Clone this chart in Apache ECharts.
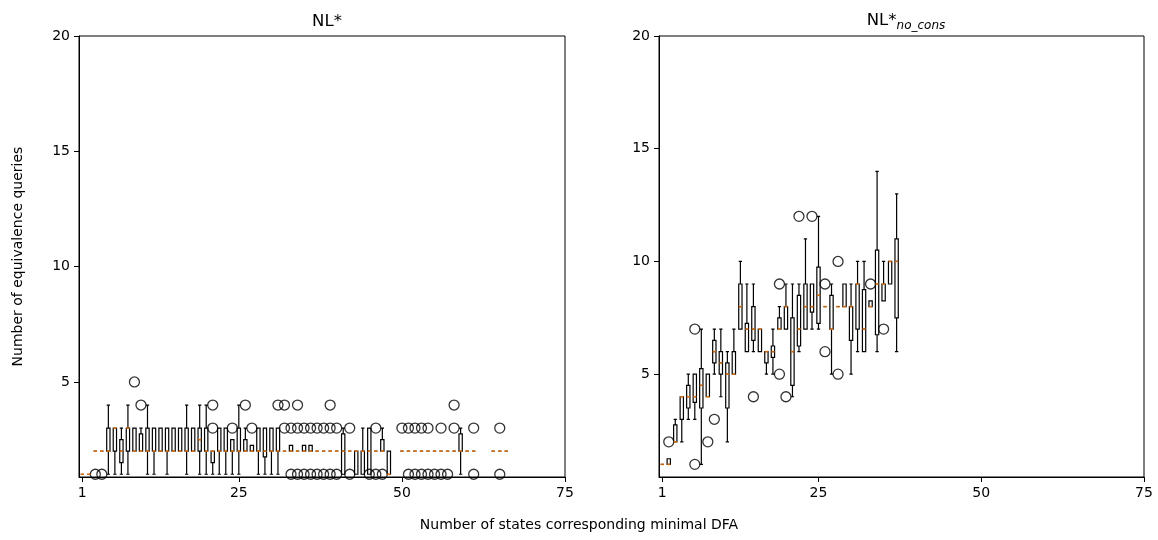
<!DOCTYPE html>
<html>
<head>
<meta charset="utf-8">
<script src="https://cdn.jsdelivr.net/npm/echarts@6/dist/echarts.min.js"></script>
<style>
html, body { margin: 0; padding: 0; background: #fff; }
#chart { width: 1158px; height: 540px; }
</style>
</head>
<body>
<div id="chart"></div>
<script>
// x = number of states of the minimal DFA, box = [min, Q1, median, Q3, max]
var leftPos = [1, 2, 3, 4, 5, 6, 7, 8, 9, 10, 11, 12, 13, 14, 15, 16, 17, 18, 19, 20,
    21, 22, 23, 24, 25, 26, 27, 28, 29, 30, 31, 32, 33, 34, 35, 36, 37, 38, 39, 40,
    41, 42, 43, 44, 45, 46, 47, 48, 50, 51, 52, 53, 54, 55, 56, 57, 58, 59, 60, 61,
    64, 65, 66];
var leftBox = [
    [1, 1, 1, 1, 1], [1, 1, 1, 1, 1], [2, 2, 2, 2, 2], [2, 2, 2, 2, 2], [1, 2, 2, 3, 4],
    [1, 2, 3, 3, 3], [1, 1.5, 2, 2.5, 3], [1, 2, 3, 3, 4], [2, 2, 2, 3, 3], [2, 2, 2, 2.75, 3],
    [1, 2, 2, 3, 4], [1, 2, 2, 3, 3], [2, 2, 2, 3, 3], [1, 2, 2, 3, 3], [2, 2, 2, 3, 3],
    [2, 2, 2, 3, 3], [1, 2, 2, 3, 4], [2, 2, 2, 3, 3], [1, 2, 2.5, 3, 4], [1, 2, 2, 3, 4],
    [1, 1.5, 2, 2, 2], [1, 2, 2, 3, 3], [1, 2, 2, 3, 3], [1, 2, 2, 2.5, 2.5], [1, 2, 2, 3, 4],
    [2, 2, 2, 2.5, 3], [2, 2, 2, 2.25, 2.25], [1, 2, 2, 3, 3], [1, 1.75, 2, 3, 3], [1, 2, 2, 3, 3],
    [1, 2, 2, 3, 3], [2, 2, 2, 2, 2], [2, 2, 2, 2.25, 2.25], [2, 2, 2, 2, 2], [2, 2, 2, 2.25, 2.25],
    [2, 2, 2, 2.25, 2.25], [2, 2, 2, 2, 2], [2, 2, 2, 2, 2], [2, 2, 2, 2, 2], [2, 2, 2, 2, 2],
    [1, 1, 2, 2.75, 3], [2, 2, 2, 2, 2], [1, 1, 2, 2, 2], [1, 1, 2, 2, 3], [1, 1, 2, 3, 3],
    [2, 2, 2, 2, 2], [2, 2, 2, 2.5, 3], [1, 1, 1, 2, 2], [2, 2, 2, 2, 2], [2, 2, 2, 2, 2],
    [2, 2, 2, 2, 2], [2, 2, 2, 2, 2], [2, 2, 2, 2, 2], [2, 2, 2, 2, 2], [2, 2, 2, 2, 2],
    [2, 2, 2, 2, 2], [2, 2, 2, 2, 2], [1, 2, 2, 2.75, 3], [2, 2, 2, 2, 2], [2, 2, 2, 2, 2],
    [2, 2, 2, 2, 2], [2, 2, 2, 2, 2], [2, 2, 2, 2, 2]
];
var leftOut = [
    [3, 1], [4, 1], [9, 5], [10, 4], [21, 3], [21, 4], [24, 3], [26, 4], [27, 3], [31, 4],
    [32, 4], [32, 3], [33, 3], [33, 1], [34, 4], [34, 3], [34, 1], [35, 3], [35, 1], [36, 3],
    [36, 1], [37, 3], [37, 1], [38, 3], [38, 1], [39, 4], [39, 3], [39, 1], [40, 3], [40, 1],
    [42, 3], [42, 1], [45, 1], [46, 3], [46, 1], [47, 1], [50, 3], [51, 3], [51, 1], [52, 3],
    [52, 1], [53, 3], [53, 1], [54, 3], [54, 1], [55, 1], [56, 3], [56, 1], [57, 1], [58, 4],
    [58, 3], [61, 3], [61, 1], [65, 3], [65, 1]
];

var rightPos = [1, 2, 3, 4, 5, 6, 7, 8, 9, 10, 11, 12, 13, 14, 15, 16, 17, 18, 19, 20,
    21, 22, 23, 24, 25, 26, 27, 28, 29, 30, 31, 32, 33, 34, 35, 36, 37];
var rightBox = [
    [1, 1, 1, 1, 1], [1, 1, 1, 1.25, 1.25], [2, 2, 2, 2.75, 3], [2, 3, 4, 4, 4], [3, 3.5, 4, 4.5, 5],
    [3, 3.75, 4, 5, 5], [1, 3.5, 4.5, 5.25, 7], [4, 4, 4, 5, 5], [5, 5.5, 6, 6.5, 7], [4, 5, 5.5, 6, 7],
    [2, 3.5, 5, 5.5, 6], [5, 5, 5, 6, 7], [7, 7, 8, 9, 10], [6, 6, 7, 7.25, 9], [6, 6.5, 7, 8, 9],
    [6, 6, 7, 7, 7], [5, 5.5, 6, 6, 6], [5, 5.75, 6, 6.25, 7], [7, 7, 7, 7.5, 8], [7, 7, 8, 8, 9],
    [4, 4.5, 6, 7.5, 9], [6, 6.25, 7, 8.5, 9], [7, 7, 8, 9, 11], [7, 7.75, 8, 9, 9], [7, 7.25, 8.5, 9.75, 12],
    [8, 8, 8, 8, 8], [5, 7, 7, 8.5, 9], [8, 8, 8, 8, 8], [8, 8, 8, 9, 9], [5, 6.5, 8, 8, 9],
    [6, 7, 9, 9, 10], [6, 6, 7, 8.75, 10], [8, 8, 8, 8.25, 8.25], [6, 6.75, 9, 10.5, 14], [8.25, 8.25, 9, 9, 10],
    [9, 9, 10, 10, 10], [6, 7.5, 10, 11, 13]
];
var rightOut = [
    [2, 2], [6, 7], [6, 1], [8, 2], [9, 3], [15, 4], [19, 9], [19, 5], [20, 4], [22, 12],
    [24, 12], [26, 9], [26, 6], [28, 10], [28, 5], [33, 9], [35, 7]
];

var xTicks = [1, 25, 50, 75];
var yTicks = [5, 10, 15, 20];

var FONT = 'DejaVu Sans';

function boxData(pos, box) {
    return pos.map(function (p, i) { return [p].concat(box[i]); });
}
function medData(pos, box) {
    return pos.map(function (p, i) { return [p, box[i][2]]; });
}

function xAxisCfg(idx) {
    return {
        type: 'value', gridIndex: idx, min: 0.5, max: 75,
        axisLine: { show: true, onZero: false, lineStyle: { color: '#000', width: 1 } },
        axisTick: { show: true, length: 5, customValues: xTicks, lineStyle: { color: '#000' } },
        axisLabel: { customValues: xTicks, color: '#000', fontSize: 14, fontFamily: FONT, margin: 9 },
        splitLine: { show: false }
    };
}
function yAxisCfg(idx, min, withName) {
    var a = {
        type: 'value', gridIndex: idx, min: min, max: 20,
        axisLine: { show: true, onZero: false, lineStyle: { color: '#000', width: 1 } },
        axisTick: { show: true, length: 5, customValues: yTicks, lineStyle: { color: '#000' } },
        axisLabel: { customValues: yTicks, color: '#000', fontSize: 14, fontFamily: FONT, margin: 9 },
        splitLine: { show: false }
    };
    if (withName) {
        a.name = 'Number of equivalence queries';
        a.nameLocation = 'middle';
        a.nameGap = 54;
        a.nameTextStyle = { color: '#000', fontSize: 14, fontFamily: FONT };
    }
    return a;
}

function panelSeries(idx, pos, box, out) {
    return [
        {
            type: 'boxplot', xAxisIndex: idx, yAxisIndex: idx,
            data: boxData(pos, box),
            boxWidth: [3.3, 3.3],
            itemStyle: { color: 'rgba(0,0,0,0)', borderColor: '#000', borderWidth: 1.2 },
            silent: true, z: 2
        },
        {
            type: 'scatter', xAxisIndex: idx, yAxisIndex: idx,
            data: medData(pos, box),
            symbol: 'rect', symbolSize: [3.3, 1.6],
            itemStyle: { color: '#ff7f0e' },
            silent: true, z: 4
        },
        {
            type: 'scatter', xAxisIndex: idx, yAxisIndex: idx,
            data: out,
            symbol: 'circle', symbolSize: 10,
            itemStyle: { color: 'rgba(0,0,0,0)', borderColor: '#000', borderWidth: 1.3 },
            silent: true, z: 3
        }
    ];
}

var chart = echarts.init(document.getElementById('chart'), null, { renderer: 'canvas' });
chart.setOption({
    animation: false,
    backgroundColor: '#fff',
    title: [
        { text: 'NL*', left: 322, top: 8, textAlign: 'center',
          textStyle: { fontSize: 16.5, fontWeight: 'normal', color: '#000', fontFamily: FONT } },
        { text: '{a|NL*}{b|no_cons}', left: 901, top: 2, textAlign: 'center',
          textStyle: { fontSize: 16.5, fontWeight: 'normal', color: '#000', fontFamily: FONT,
            rich: {
                a: { fontSize: 16.5, fontFamily: FONT, color: '#000', lineHeight: 22, verticalAlign: 'bottom' },
                b: { fontSize: 12, fontStyle: 'italic', fontFamily: FONT, color: '#000', lineHeight: 12, verticalAlign: 'bottom', padding: [0, 0, -3, 0] }
            } } },
        { text: 'Number of states corresponding minimal DFA', left: 'center', top: 513,
          textStyle: { fontSize: 14, fontWeight: 'normal', color: '#000', fontFamily: FONT } }
    ],
    grid: [
        { left: 79, top: 36, width: 486, height: 441, show: true, borderColor: '#000', borderWidth: 1, backgroundColor: 'transparent' },
        { left: 659, top: 36, width: 485, height: 441, show: true, borderColor: '#000', borderWidth: 1, backgroundColor: 'transparent' }
    ],
    xAxis: [xAxisCfg(0), xAxisCfg(1)],
    yAxis: [yAxisCfg(0, 0.88, true), yAxisCfg(1, 0.44, false)],
    series: panelSeries(0, leftPos, leftBox, leftOut).concat(panelSeries(1, rightPos, rightBox, rightOut))
});
</script>
</body>
</html>
